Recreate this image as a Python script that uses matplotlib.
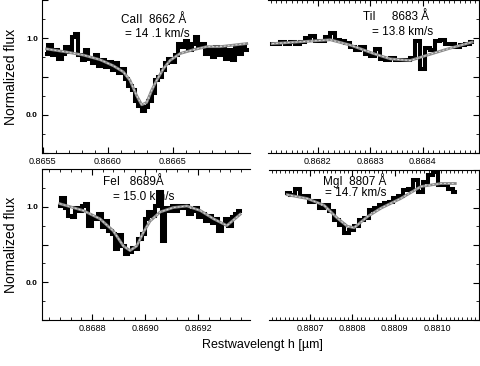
import numpy as np
import matplotlib
matplotlib.use("Agg")
import matplotlib.pyplot as plt
from matplotlib.ticker import FixedLocator, FixedFormatter, AutoMinorLocator, MultipleLocator

plt.rcParams['font.family'] = ['Liberation Sans', 'DejaVu Sans']

# ---------------- data ----------------
# CaII 8662
ca_wave_range = (0.865531, 0.867070)
ca_flux = [0.80, 0.91, 0.78, 0.84, 0.73, 0.80, 0.89, 0.82, 1.02, 1.06,
           0.78, 0.71, 0.84, 0.73, 0.67, 0.78, 0.64, 0.71, 0.62, 0.69,
           0.58, 0.67, 0.54, 0.60, 0.47, 0.38, 0.32, 0.18, 0.12, 0.05,
           0.10, 0.18, 0.29, 0.45, 0.49, 0.58, 0.67, 0.73, 0.69, 0.78,
           0.93, 0.89, 0.96, 0.84, 0.93, 1.02, 0.89, 0.93, 0.80, 0.86,
           0.76, 0.89, 0.78, 0.86, 0.73, 0.84, 0.71, 0.89, 0.80, 0.91,
           0.84]
ca_fit_wave = [0.865531, 0.865685, 0.865813, 0.865941, 0.866044, 0.866121,
               0.866172, 0.866223, 0.866262, 0.866300, 0.866339, 0.866377,
               0.866428, 0.866480, 0.866557, 0.866659, 0.866762, 0.866864,
               0.866967, 0.867070]
ca_fit_flux = [0.86, 0.82, 0.78, 0.72, 0.64, 0.56, 0.45, 0.25, 0.13, 0.16,
               0.32, 0.45, 0.60, 0.71, 0.80, 0.85, 0.89, 0.89, 0.91, 0.93]

# TiI 8683
ti_wave_range = (0.868113, 0.868494)
ti_flux = [0.92, 0.93, 0.95, 0.92, 0.95, 0.92, 0.95, 1.00, 1.03, 0.97,
           0.96, 1.02, 1.07, 0.98, 0.97, 0.94, 0.88, 0.84, 0.88, 0.80,
           0.77, 0.86, 0.73, 0.71, 0.74, 0.72, 0.72, 0.72, 0.74, 0.97,
           0.60, 0.87, 0.85, 0.97, 0.98, 0.92, 0.92, 0.88, 0.91, 0.93,
           0.95]
ti_fit_wave = [0.868113, 0.868180, 0.868224, 0.868262, 0.868306, 0.868338,
               0.868376, 0.868409, 0.868447, 0.868494]
ti_fit_flux = [0.93, 0.96, 0.98, 0.91, 0.80, 0.73, 0.71, 0.78, 0.86, 0.95]

# FeI 8689
fe_wave_range = (0.868679, 0.869357)
fe_flux = [1.01, 1.12, 0.99, 0.88, 0.86, 0.99, 0.95, 1.01, 1.04, 0.75,
           0.86, 0.84, 0.90, 0.73, 0.81, 0.68, 0.64, 0.44, 0.62, 0.48,
           0.37, 0.40, 0.46, 0.44, 0.57, 0.64, 0.84, 0.93, 0.88, 1.01,
           1.19, 0.55, 0.99, 0.95, 1.01, 0.95, 1.01, 0.99, 1.01, 0.90,
           0.95, 0.99, 0.86, 0.90, 0.81, 0.88, 0.79, 0.84, 0.68, 0.77,
           0.84, 0.75, 0.86, 0.90, 0.95]
fe_fit_wave = [0.868679, 0.868767, 0.868830, 0.868880, 0.868918, 0.868943,
               0.868968, 0.868993, 0.869018, 0.869056, 0.869106, 0.869157,
               0.869207, 0.869257, 0.869307, 0.869357]
fe_fit_flux = [1.04, 0.95, 0.84, 0.68, 0.48, 0.42, 0.48, 0.66, 0.81, 0.93,
               0.99, 1.01, 0.95, 0.84, 0.75, 0.90]

# MgI 8807
mg_wave_range = (0.880646, 0.881043)
mg_flux = [1.19, 1.17, 1.25, 1.15, 1.15, 1.08, 1.09, 0.99, 1.03, 0.95,
           0.84, 0.77, 0.66, 0.70, 0.75, 0.84, 0.86, 0.97, 0.99, 1.03,
           1.06, 1.08, 1.12, 1.15, 1.23, 1.25, 1.36, 1.21, 1.34, 1.43,
           1.47, 1.30, 1.30, 1.25, 1.21]
mg_fit_wave = [0.880646, 0.880693, 0.880733, 0.880764, 0.880788, 0.880804,
               0.880836, 0.880867, 0.880914, 0.880962, 0.881009, 0.881043]
mg_fit_flux = [1.17, 1.12, 1.03, 0.86, 0.75, 0.73, 0.88, 0.99, 1.12, 1.28,
               1.32, 1.32]

labels_line1 = ["CaII  8662 Å", "TiI     8683 Å", "FeI   8689Å", "MgI  8807 Å"]
labels_line2 = ["= 14 .1 km/s", "= 13.8 km/s", "= 15.0 km/s", "= 14.7 km/s"]

ca_ticks = [0.8655, 0.8660, 0.8665]
ti_ticks = [0.8682, 0.8683, 0.8684]
fe_ticks = [0.8688, 0.8690, 0.8692]
mg_ticks = [0.8807, 0.8808, 0.8809, 0.8810]

# ---------------- figure ----------------
W, H = 480, 366
fig = plt.figure(figsize=(W / 100, H / 100), dpi=100)

def rect(x0, y0, x1, y1):
    return [x0 / W, 1 - y1 / H, (x1 - x0) / W, (y1 - y0) / H]

ax_ca = fig.add_axes(rect(42, 0, 250, 153))
ax_ti = fig.add_axes(rect(268, 0, 479, 153))
ax_fe = fig.add_axes(rect(42, 169, 250, 320))
ax_mg = fig.add_axes(rect(269, 170, 479, 320))

panels = [
    (ax_ca, ca_wave_range, ca_flux, ca_fit_wave, ca_fit_flux, ca_ticks, (0.865495, 0.867095), 'left'),
    (ax_ti, ti_wave_range, ti_flux, ti_fit_wave, ti_fit_flux, ti_ticks, (0.868105, 0.868507), 'right'),
    (ax_fe, fe_wave_range, fe_flux, fe_fit_wave, fe_fit_flux, fe_ticks, (0.868612, 0.869394), 'left'),
    (ax_mg, mg_wave_range, mg_flux, mg_fit_wave, mg_fit_flux, mg_ticks, (0.880603, 0.881099), 'right'),
]

for i, (ax, wr, flux, fw, ff, ticks, xlim, side) in enumerate(panels):
    wave = np.linspace(wr[0], wr[1], len(flux))
    ax.plot(wave, flux, color='black', lw=2.9, drawstyle='steps-mid',
            solid_joinstyle='miter', zorder=2)
    ax.plot(fw, ff, color='#8a8a8a', lw=2.0, zorder=3)
    ax.plot(fw, ff, color='#dadada', lw=0.7, ls=(0, (2, 2)), zorder=4)
    ax.set_xlim(*xlim)
    ax.set_ylim(-0.5, 1.5)
    ax.xaxis.set_major_locator(FixedLocator(ticks))
    ax.xaxis.set_major_formatter(FixedFormatter([f"{t:.4f}" for t in ticks]))
    ax.xaxis.set_minor_locator(AutoMinorLocator(10 if side == 'right' else 5))
    ax.yaxis.set_major_locator(MultipleLocator(0.5))
    ax.yaxis.set_minor_locator(MultipleLocator(0.25))
    ax.tick_params(axis='x', which='major', direction='in', length=4, width=0.8,
                   labelsize=6.5, pad=3)
    ax.tick_params(axis='x', which='minor', direction='in', length=2, width=0.6)
    ax.tick_params(axis='y', which='major', direction='in', length=4, width=0.8)
    ax.tick_params(axis='y', which='minor', direction='in', length=2, width=0.6)
    for sp in ax.spines.values():
        sp.set_linewidth(0.8)
    if side == 'left':
        ax.spines['right'].set_visible(False)
        ax.yaxis.set_major_locator(FixedLocator([-0.5, 0.0, 0.5, 1.0, 1.5]))
        ax.yaxis.set_major_formatter(FixedFormatter(["", "0.0", "", "1.0", ""]))
        ax.tick_params(axis='y', labelsize=6, pad=3)
        for lab in ax.get_yticklabels():
            lab.set_fontweight('bold')
        ax.set_ylabel("Normalized flux", fontsize=10)
        ax.yaxis.set_label_coords(-0.115, 0.5)
        if ax is ax_ca:
            ax.spines['top'].set_visible(False)
            ax.tick_params(axis='x', which='both', top=False)
        else:
            ax.tick_params(axis='x', which='both', top=True)
    else:
        ax.spines['left'].set_visible(False)
        ax.tick_params(axis='y', which='both', left=False, right=True,
                       labelleft=False)
        ax.tick_params(axis='x', which='both', top=True)

# annotations (figure pixel coordinates)
ann = [
    (121, 20, 125, 34),
    (363, 17, 372, 32),
    (103, 182, 113, 197),
    (323, 181, 325, 193),
]
for (x1, y1, x2, y2), t1, t2 in zip(ann, labels_line1, labels_line2):
    fig.text(x1 / W, 1 - y1 / H, t1, fontsize=8.5, va='center', ha='left')
    fig.text(x2 / W, 1 - y2 / H, t2, fontsize=8.5, va='center', ha='left')

fig.text(262 / W, 1 - 345 / H, "Restwavelengt h [µm]", fontsize=9,
         ha='center', va='center')

fig.savefig("out.png", dpi=100)
